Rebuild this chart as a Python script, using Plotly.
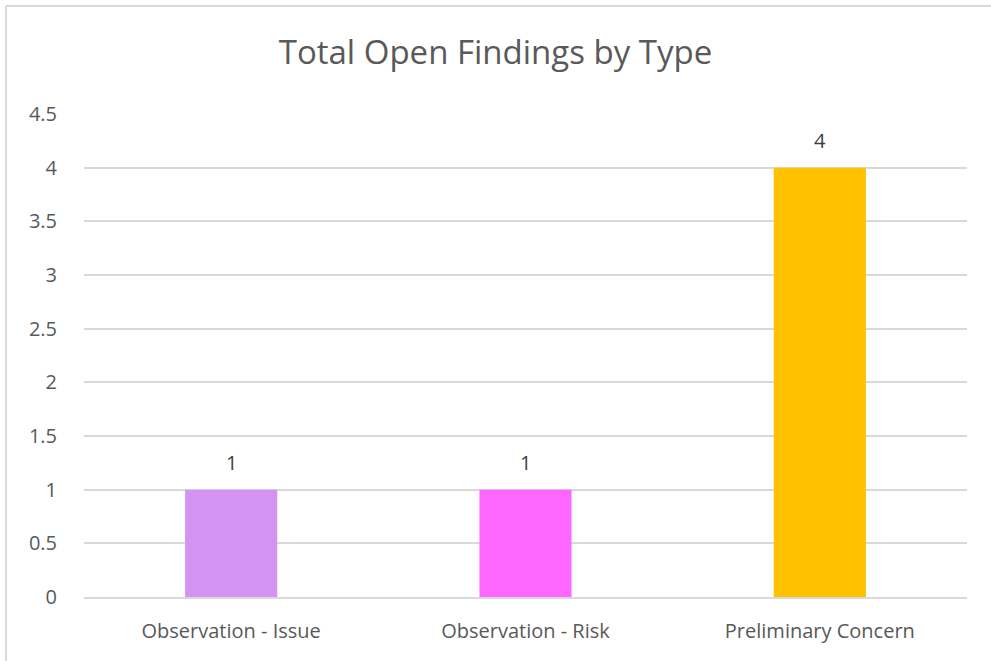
import plotly.graph_objects as go

categories = ["Observation - Issue", "Observation - Risk", "Preliminary Concern"]
values = [1, 1, 4]
colors = ["#D293F3", "#FF66FF", "#FFC000"]
y_ticks = [0, 0.5, 1, 1.5, 2, 2.5, 3, 3.5, 4, 4.5]
y_tick_labels = ["0", "0.5", "1", "1.5", "2", "2.5", "3", "3.5", "4", "4.5"]

W, H = 991, 661
L, R, T, B = 84, 24, 114, 64
pw, ph = W - L - R, H - T - B

font = "'Open Sans', Lato, sans-serif"

fig = go.Figure(go.Bar(
    x=categories, y=values,
    marker=dict(color=colors, line=dict(width=0)),
    width=0.313,
    hoverinfo="x+y",
))

annotations = [
    dict(x=c, y=v, xref="x", yref="y", text=str(v), showarrow=False,
         yanchor="middle", yshift=27,
         font=dict(size=20, color="#404040", family=font))
    for c, v in zip(categories, values)
]

fig.update_layout(
    width=W, height=H,
    margin=dict(l=L, r=R, t=T, b=B, pad=0),
    paper_bgcolor="white", plot_bgcolor="white",
    showlegend=False,
    title=dict(text="Total Open Findings by Type", x=0.5, xanchor="center",
               y=1 - 52 / H, yanchor="middle",
               font=dict(size=33, color="#595959", family=font)),
    font=dict(family=font, color="#595959", size=20),
    xaxis=dict(showgrid=False, showline=True, linecolor="#D9D9D9", linewidth=2,
               ticks="", tickfont=dict(size=20, color="#595959"),
               ticklabelstandoff=15),
    yaxis=dict(range=[0, 4.5], tickvals=y_ticks, ticktext=y_tick_labels,
               showgrid=True, gridcolor="#D9D9D9", gridwidth=2,
               zeroline=False, showline=False, ticks="",
               tickfont=dict(size=20, color="#595959"),
               ticklabelstandoff=26),
    annotations=annotations,
    shapes=[
        dict(type="line", xref="paper", yref="paper",
             x0=(6 - L) / pw, x1=(W - L) / pw, y0=1 + (T - 6) / ph, y1=1 + (T - 6) / ph,
             line=dict(color="#D9D9D9", width=2)),
        dict(type="line", xref="paper", yref="paper",
             x0=(6 - L) / pw, x1=(6 - L) / pw, y0=1 + (T - 6) / ph, y1=-(B) / ph,
             line=dict(color="#D9D9D9", width=2)),
    ],
)

fig.write_html("out.html")
